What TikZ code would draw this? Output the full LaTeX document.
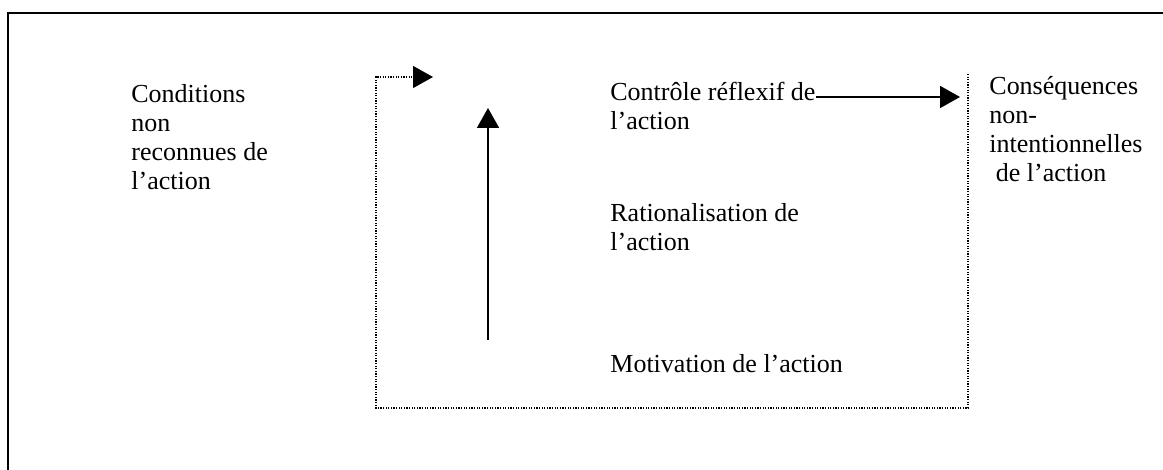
\documentclass[tikz,border=0pt]{standalone}
\usepackage{fontspec}
\setmainfont{Liberation Serif}
\usetikzlibrary{arrows.meta}

\tikzset{
  txt/.style={anchor=base west, align=left, inner sep=0pt, font=\fontsize{13}{14.5}\selectfont},
  arr/.style={line width=0.9pt, -{Triangle[length=10pt,width=11pt]}},
  dots/.style={line width=0.65pt, dash pattern=on 0.65pt off 0.65pt},
}

\begin{document}
\begin{tikzpicture}[x=0.5pt,y=-0.5pt]
                \useasboundingbox (0,0) rectangle (1163,470);
                \draw[line width=1pt] (8,470) -- (8,13) -- (1163,13);

                % base anchor sits on the last line
                \node[txt] (cond) at (131,190) {Conditions\\non\\reconnues de\\l’action};
                \node[txt] (ctrl) at (610,130) {Contrôle réflexif de\\l’action};
                \node[txt] (rat) at (610,251) {Rationalisation de\\l’action};
                \node[txt] (mot) at (610,373) {Motivation de l’action};
                \node[txt] (cons) at (989,182) {Conséquences\\non-\\intentionnelles\\\hspace*{0.25em}de l’action};

                % dotted frame
                \coordinate (tr) at (968,74);
                \coordinate (br) at (968,408);
                \coordinate (bl) at (376,408);
                \coordinate (tl) at (376,77);
                \coordinate (tlend) at (433,77);
                \draw[dots, -{Triangle[length=10pt,width=11pt]}] (tr) -- (br) -- (bl) -- (tl) -- (tlend);

                \coordinate (vlow) at (488,340);
                \coordinate (vtop) at (488,108);
                \draw[arr] (vlow) -- (vtop);

                \coordinate (hend) at (960,97);
                \draw[arr] ([xshift=0.3pt]ctrl.east |- hend) -- (hend);
            \end{tikzpicture}
\end{document}
